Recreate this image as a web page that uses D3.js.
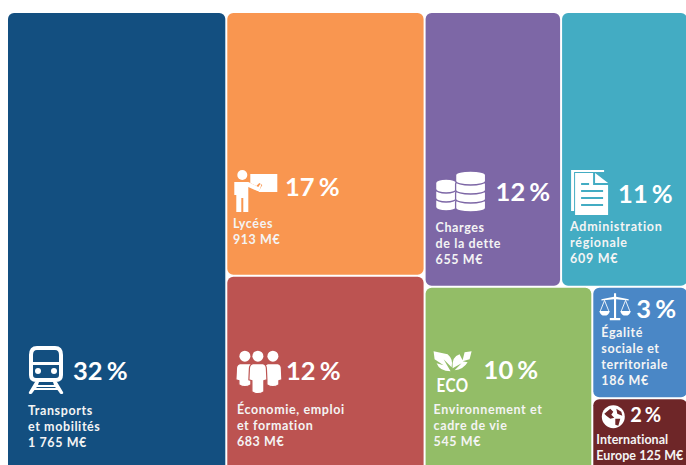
<!DOCTYPE html>
<html>
<head>
<meta charset="utf-8">
<script src="https://cdn.jsdelivr.net/npm/d3@7"></script>
<style>
  html, body { margin: 0; padding: 0; background: #fff; overflow: hidden; }
  text { font-family: Lato, sans-serif; font-weight: 700; fill: #fff; }
  .pct { word-spacing: -2px; }
  .lab { font-size: 12.5px; fill: #f4f4f4; }
</style>
</head>
<body>
<div id="container"></div>
<script>
/* DATA */
const names = ["Transports", "Lycées", "Économie", "Charges", "Administration", "Environnement", "Égalité", "International"];
const amounts = [1765, 913, 683, 655, 609, 545, 186, 125];
const percents = ["32 %", "17 %", "12 %", "12 %", "11 %", "10 %", "3 %", "2 %"];
const labels = [
  ["Transports", "et mobilités", "1 765 M€"],
  ["Lycées", "913 M€"],
  ["Économie, emploi", "et formation", "683 M€"],
  ["Charges", "de la dette", "655 M€"],
  ["Administration", "régionale", "609 M€"],
  ["Environnement et", "cadre de vie", "545 M€"],
  ["Égalité", "sociale et", "territoriale", "186 M€"],
  ["International", "Europe 125 M€"]
];
const colors = ["#134f80", "#f99650", "#bc5351", "#7d67a6", "#43acc3", "#93bd67", "#4a87c6", "#6e2628"];

/* CONSTANTS AND GLOBALS */
const width = 686, height = 465;
const box = { left: 8, top: 13, right: 687, bottom: 472 }; // bottom row runs off the page

const leaf = i => ({ name: names[i], i: i, value: amounts[i] });

// same nesting as the original: columns, then rows, then columns again
const tree = { children: [
  leaf(0),
  { children: [leaf(1), leaf(2)] },
  { children: [
    { children: [leaf(3), leaf(4)] },
    { children: [leaf(5), { children: [leaf(6), leaf(7)] }] }
  ] }
] };

const root = d3.treemap()
  .tile(d3.treemapSliceDice)
  .size([box.right - box.left, box.bottom - box.top])
  .paddingInner(2)
  .round(false)(d3.hierarchy(tree).sum(d => d.value || 0));

const cells = root.leaves().sort((a, b) => a.data.i - b.data.i);

// inside each cell: label x, first baseline, pct x, pct baseline, pct size, icon x, icon y, label spacing
const placing = [
  { lx: 20, ly: 402, px: 65, py: 367, fs: 25.5, ix: 20, iy: 333, ls: 0.6 },
  { lx: 5.6, ly: 215, px: 57.6, py: 183, fs: 25.5, ix: 6, iy: 157, ls: 0.6 },
  { lx: 9.6, ly: 137.6, px: 58.6, py: 103.6, fs: 25.5, ix: 9.6, iy: 75, ls: 0.6 },
  { lx: 10, ly: 219, px: 70, py: 188, fs: 25.5, ix: 10, iy: 157, ls: 0.6 },
  { lx: 8, ly: 218, px: 56, py: 190, fs: 25.5, ix: 9, iy: 157, ls: 0.7 },
  { lx: 8, ly: 126.5, px: 58, py: 91.5, fs: 25.5, ix: 8, iy: 63.5, ls: 0.6 },
  { lx: 8, ly: 49, px: 43, py: 30, fs: 25.5, ix: 6, iy: 5.5, ls: 0.6 },
  { lx: 3, ly: 44.5, px: 37, py: 23, fs: 20, ix: 9, iy: 6.5, ls: 0.05 }
];

/* ICONS, white shapes in their own little coordinates */
const iconMakers = [
  g => { // train
    g.append("path").attr("fill-rule", "evenodd").attr("d", "M9 0H27Q35 0 35 9V29Q35 36 28 36H8Q1 36 1 29V9Q1 0 9 0ZM9 4Q5 4 5 9V16H31V9Q31 4 27 4ZM5 19V29Q5 32 8 32H28Q31 32 31 29V19Z");
    g.append("circle").attr("cx", 10).attr("cy", 25).attr("r", 3);
    g.append("circle").attr("cx", 26).attr("cy", 25).attr("r", 3);
    g.append("path").attr("d", "M7 36H11L10 39H26L25 36H29L35 46Q36 48 33 48Q32 48 31 46L29.5 44H6.5L5 46Q4 48 3 48Q0 48 1 46ZM9 41L8 42H28L27 41Z");
  },
  g => { // teacher at a board
    g.append("circle").attr("cx", 9).attr("cy", 5).attr("r", 5);
    g.append("path").attr("d", "M1 12H15L25 17L27 14L28 15L26 21L24 21L15 17V42H10V28H8V42H3V25H1Z");
    g.append("path").attr("d", "M17 4H44V22H25L29 15L26 13L23 16L17 13Z");
  },
  g => { // three people
    [[8, 36], [36, 36], [21, 43]].forEach(([cx, end]) => {
      g.append("circle").attr("cx", cx).attr("cy", 4.5).attr("r", 5.5);
      g.append("path")
        .attr("stroke", colors[2]).attr("stroke-width", 1.2)
        .attr("d", `M${cx - 5} 12H${cx + 5}Q${cx + 8.5} 13 ${cx + 8.5} 17L${cx + 9} 28L${cx + 6} 29V${end - 3}Q${cx} ${end + 1} ${cx - 6} ${end - 3}V29L${cx - 9} 28L${cx - 8.5} 17Q${cx - 8.5} 13 ${cx - 5} 12Z`);
    });
  },
  g => { // coins, drawn bottom up so each sits on the one below
    const coin = (x, y, w) => g.append("path")
      .attr("stroke", colors[3]).attr("stroke-width", 1.3)
      .attr("d", `M${x} ${y}A${w / 2} 4 0 0 1 ${x + w} ${y}V${y + 6}A${w / 2} 4 0 0 1 ${x} ${y + 6}Z`);
    [31, 22, 13].forEach(y => coin(0, y, 21));
    [32, 23, 14, 5].forEach(y => coin(20, y, 30));
  },
  g => { // document
    g.append("path").attr("d", "M0 0H33V2H3V41H0Z");
    g.append("path").attr("fill-rule", "evenodd").attr("d", "M4 3H22V15H37V45H4ZM10 13V15H18V13ZM10 20V22H32V20ZM10 27V29H32V27ZM10 34V36H32V34Z");
    g.append("path").attr("d", "M24 3L37 13H24Z");
  },
  g => { // leaves and ECO
    g.append("path").attr("d", "M0 0L14 3Q20 8 18 16L10 8L17 20Q6 20 3 12L10 14L1 8Z");
    g.append("path").attr("d", "M19 17Q18 5 26 3L29 9L31 1L38 0L36 8L29 10L34 11Q30 18 21 19L28 12Z");
    g.append("text").attr("transform", "translate(3,41) scale(0.85,1)").style("font-size", "18px").style("letter-spacing", "0.5px").text("ECO");
  },
  g => { // scales
    const s = g.append("g").attr("transform", "scale(1.05,1.17)");
    s.append("path").attr("d", "M14 0H16V3L28 5V6L16 5V21H20V23H10V21H14V5L2 6V5L14 3Z");
    const pan = x => {
      s.append("path").attr("fill", "none").attr("stroke", "#fff").attr("stroke-width", 0.8).attr("d", `M${x} 6L${x - 4} 15M${x} 6L${x + 4} 15`);
      s.append("path").attr("d", `M${x - 5} 15H${x + 5}Q${x + 4} 19 ${x} 19Q${x - 4} 19 ${x - 5} 15Z`);
    };
    pan(5); pan(25);
  },
  g => { // globe
    g.append("circle").attr("cx", 11).attr("cy", 11).attr("r", 11.5);
    g.append("path").attr("fill", colors[7]).attr("d", "M2 8L8 3L11 6L9 9L12 12L8 13L4 10ZM13 13L18 13L16 20L13 19ZM14 3L19 6L20 10L15 8Z");
  }
];

/* HTML ELEMENTS */
const svg = d3.select("#container")
  .append("svg")
  .attr("width", width)
  .attr("height", height)
  .style("display", "block");

const chart = svg.append("g")
  .attr("transform", `translate(${box.left},${box.top})`);

chart.selectAll("rect.cell")
  .data(cells)
  .join("rect")
  .attr("class", "cell")
  .attr("x", d => d.x0)
  .attr("y", d => d.y0)
  .attr("width", d => d.x1 - d.x0)
  .attr("height", d => d.y1 - d.y0)
  .attr("rx", 6)
  .style("fill", d => colors[d.data.i]);

const groups = chart.selectAll("g.block")
  .data(cells)
  .join("g")
  .attr("class", "block")
  .attr("transform", d => `translate(${d.x0},${d.y0})`);

groups.append("g")
  .attr("fill", "#fff")
  .attr("transform", d => `translate(${placing[d.data.i].ix},${placing[d.data.i].iy})`)
  .each(function (d) { iconMakers[d.data.i](d3.select(this)); });

groups.append("text")
  .attr("class", "pct")
  .attr("x", d => placing[d.data.i].px)
  .attr("y", d => placing[d.data.i].py)
  .style("font-size", d => placing[d.data.i].fs + "px")
  .text(d => percents[d.data.i]);

groups.append("text")
  .attr("class", "lab")
  .attr("y", d => placing[d.data.i].ly)
  .style("letter-spacing", d => placing[d.data.i].ls + "px")
  .selectAll("tspan")
  .data(d => labels[d.data.i].map(t => ({ t: t, x: placing[d.data.i].lx })))
  .join("tspan")
  .attr("x", d => d.x)
  .attr("dy", (d, i) => i ? 16 : 0)
  .text(d => d.t);
</script>
</body>
</html>
